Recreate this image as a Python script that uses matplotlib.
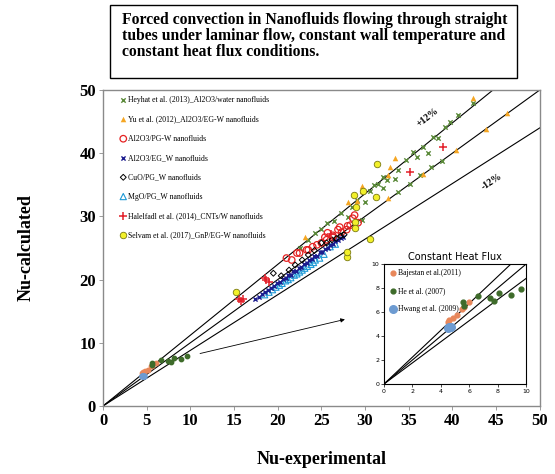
"""Nu-calculated vs Nu-experimental parity plot for nanofluid forced convection."""

import numpy as np
import matplotlib
matplotlib.use("Agg")
import matplotlib.pyplot as plt

SERIF = ["Liberation Serif", "DejaVu Serif"]

# ---- data ------------------------------------------------------------------
heyhat_x = [22.5, 23.5, 24.3, 25.0, 25.6, 26.4, 27.2, 28.0, 28.5, 29.1, 29.6, 30.0,
            30.6, 31.0, 31.5, 32.0, 32.0, 32.5, 33.4, 33.8, 33.8, 34.7, 35.1, 35.5,
            35.9, 36.3, 36.6, 37.2, 37.6, 37.8, 38.4, 38.8, 39.1, 39.7, 40.6, 42.3]
heyhat_y = [25.0, 26.3, 27.4, 28.0, 29.0, 29.3, 30.5, 29.9, 31.5, 32.6, 29.4, 32.3,
            34.0, 35.0, 35.1, 36.2, 34.5, 35.8, 35.9, 37.3, 33.9, 38.9, 35.1, 40.2,
            39.4, 36.5, 41.0, 40.0, 37.8, 42.6, 42.4, 38.8, 44.1, 44.9, 46.0, 48.0]

yu_x = [23.1, 28.0, 29.1, 29.7, 29.7, 32.6, 32.6, 32.8, 33.4, 36.6, 40.4, 43.8, 46.3, 42.3]
yu_y = [26.7, 32.3, 32.4, 34.0, 34.8, 36.5, 32.9, 37.8, 39.2, 36.7, 40.5, 43.8, 46.4, 48.7]

al_pg_x = [21.0, 21.6, 22.2, 22.5, 23.3, 23.5, 24.0, 24.5, 25.0, 25.4, 25.6, 25.7,
           26.3, 26.3, 26.9, 27.1, 27.3, 27.9, 28.0, 28.3, 28.6, 28.8, 29.2]
al_pg_y = [23.4, 23.1, 24.2, 24.2, 24.7, 24.7, 25.2, 25.5, 25.8, 26.7, 26.3, 27.4,
           26.7, 27.0, 27.9, 28.3, 27.5, 27.9, 28.5, 28.6, 29.7, 30.2, 29.0]

al_eg_x = [17.4, 17.8, 18.2, 18.5, 18.9, 19.2, 19.6, 19.9, 20.3, 20.6, 20.9, 21.2,
           21.5, 21.8, 22.1, 22.4, 22.7, 23.0, 23.3, 23.6, 23.9, 24.2, 24.5, 24.8,
           25.1, 25.4, 25.7, 26.0, 26.3, 26.6, 26.9, 27.2, 27.5]
al_eg_y = [17.0, 17.3, 17.7, 18.1, 18.3, 18.7, 19.0, 19.4, 19.6, 20.1, 20.2, 20.7,
           20.8, 21.3, 21.4, 21.9, 22.0, 22.5, 22.6, 23.1, 23.2, 23.7, 23.8, 24.3,
           24.4, 24.9, 25.0, 25.5, 25.6, 26.1, 26.2, 26.6, 26.8]

cuo_x = [19.5, 20.4, 21.3, 22.0, 22.8, 23.5, 24.2, 25.0, 25.6, 26.2, 26.7, 27.2, 27.6]
cuo_y = [21.0, 20.6, 21.5, 22.3, 23.1, 23.9, 24.6, 25.8, 25.8, 26.3, 26.5, 26.9, 27.1]

mgo_x = [18.5, 19.0, 19.4, 19.8, 20.2, 20.5, 20.9, 21.2, 21.5, 21.9, 22.2, 22.5,
         22.8, 23.1, 23.4, 23.8, 24.1, 24.3, 24.8, 25.3, 26.0, 26.6]
mgo_y = [17.6, 18.0, 18.4, 18.8, 19.1, 19.4, 19.8, 20.0, 20.3, 20.7, 20.9, 21.2,
         21.5, 21.8, 22.1, 22.4, 22.7, 23.1, 23.4, 24.0, 25.2, 25.6]

halelfadl_x = [15.6, 15.8, 16.0, 18.6, 18.7, 19.0, 26.1, 35.1, 38.9]
halelfadl_y = [16.9, 16.6, 17.0, 20.2, 19.9, 19.6, 27.2, 37.0, 41.0]

selvam_x = [15.2, 27.9, 27.9, 28.8, 28.9, 29.0, 28.7, 29.8, 30.6, 31.2, 31.4]
selvam_y = [18.0, 23.6, 24.4, 29.1, 28.2, 31.5, 33.4, 34.0, 26.4, 33.1, 38.3]

# constant heat flux studies (inset, also shown near the origin of main plot)
bajestan_x = [4.47, 4.60, 4.84, 5.12, 5.52, 5.63, 6.01]
bajestan_y = [5.14, 5.33, 5.47, 5.75, 6.25, 6.40, 6.86]
he_x = [5.59, 5.63, 6.64, 7.46, 7.75, 8.07, 8.92, 9.65]
he_y = [6.81, 6.53, 7.33, 7.19, 6.94, 7.61, 7.42, 7.92]
hwang_x = [4.47, 4.58, 4.70]
hwang_y = [4.70, 4.78, 4.72]

band_factors = [1.12, 1.0, 0.88]
title_text = ("Forced convection in Nanofluids flowing through straight\n"
              "tubes under laminar flow, constant wall temperature and\n"
              "constant heat flux conditions.")

# ---- figure ----------------------------------------------------------------
fig = plt.figure(figsize=(5.55, 4.74), dpi=100)
ax = fig.add_axes([0.1856, 0.1435, 0.787, 0.6667])

xx = np.array([0, 50])
for f in band_factors:
    ax.plot(xx, f * xx, color="black", lw=0.8, zorder=1)

ax.scatter(heyhat_x, heyhat_y, marker="x", s=10, color="#5b8a3a", lw=1.0,
           label="Heyhat et al. (2013)_Al2O3/water nanofluids", zorder=3)
ax.scatter(yu_x, yu_y, marker="^", s=16, color="#f5a623", lw=0,
           label="Yu et al. (2012)_Al2O3/EG-W nanofluids", zorder=3)
ax.scatter(al_pg_x, al_pg_y, marker="o", s=22, facecolor="none",
           edgecolor="#e52222", lw=0.9, label="Al2O3/PG-W nanofluids", zorder=3)
ax.scatter(al_eg_x, al_eg_y, marker="x", s=9, color="#1c1c8e", lw=1.0,
           label="Al2O3/EG_W nanofluids", zorder=3)
ax.scatter(cuo_x, cuo_y, marker="D", s=9, facecolor="none",
           edgecolor="black", lw=0.7, label="CuO/PG_W nanofluids", zorder=3)
ax.scatter(mgo_x, mgo_y, marker="^", s=20, facecolor="none",
           edgecolor="#1e9ad6", lw=0.8, label="MgO/PG_W nanofluids", zorder=2)
ax.scatter(halelfadl_x, halelfadl_y, marker="+", s=40, color="#e3202a", lw=1.1,
           label="Halelfadl et al. (2014)_CNTs/W nanofluids", zorder=4)
ax.scatter(selvam_x, selvam_y, marker="o", s=22, facecolor="#f2f02a",
           edgecolor="#7a7a10", lw=0.6,
           label="Selvam et al. (2017)_GnP/EG-W nanofluids", zorder=4)

ax.scatter(bajestan_x, bajestan_y, s=10, color="#e8875a", zorder=3)
ax.scatter(he_x, he_y, s=10, color="#3e6b2a", zorder=3)
ax.scatter(hwang_x, hwang_y, s=14, color="#6d9bd1", zorder=3)

ax.set_xlim(0, 50)
ax.set_ylim(0, 50)
ax.set_xticks(np.arange(0, 51, 5))
ax.set_yticks(np.arange(0, 51, 10))
for s in ax.spines.values():
    s.set_color("#8a8a8a")
    s.set_linewidth(1.0)
ax.tick_params(length=3, color="#8a8a8a", width=0.6, pad=2)
for lbl in ax.get_xticklabels() + ax.get_yticklabels():
    lbl.set_fontfamily(SERIF)
    lbl.set_fontweight("bold")
    lbl.set_fontsize(12)

ax.set_xlabel("Nu-experimental", fontfamily=SERIF, fontweight="bold",
              fontsize=13, labelpad=16)
ax.set_ylabel("Nu-calculated", fontfamily=SERIF, fontweight="bold",
              fontsize=13, labelpad=32)

ax.legend(loc="upper left", bbox_to_anchor=(0.025, 0.995), frameon=False,
          prop={"family": SERIF, "size": 5.6}, handletextpad=0.0,
          handlelength=1.2, labelspacing=1.45, borderaxespad=0.2,
          scatterpoints=1)

ax.text(37.2, 45.7, "+12%", rotation=38, fontfamily=SERIF, fontweight="bold",
        fontsize=7, ha="center", va="center")
ax.text(44.5, 35.4, "-12%", rotation=33, fontfamily=SERIF, fontweight="bold",
        fontsize=7, ha="center", va="center")

ax.annotate("", xy=(28.0, 13.8), xytext=(10.8, 8.2),
            arrowprops=dict(arrowstyle="-|>", color="black", lw=0.6,
                            mutation_scale=6))

# title box
fig.text(122 / 555, 1 - 36 / 474, title_text, fontfamily=SERIF,
         fontweight="bold", fontsize=11.3, ha="left", va="center",
         linespacing=1.0)
fig.patches.append(plt.Rectangle((110 / 555, 1 - 78 / 474), 407 / 555, 73 / 474,
                                 transform=fig.transFigure, fill=False,
                                 edgecolor="black", lw=1.0))

# inset: constant heat flux
ins = fig.add_axes([0.692, 0.190, 0.256, 0.253])
for f in band_factors:
    ins.plot([0, 10], [0, 10 * f], color="black", lw=0.8, zorder=1)
ins.scatter(bajestan_x, bajestan_y, s=12, color="#e8875a",
            label="Bajestan et al.(2011)", zorder=3)
ins.scatter(he_x, he_y, s=12, color="#3e6b2a", label="He et al. (2007)", zorder=3)
ins.scatter(hwang_x, hwang_y, s=30, color="#6d9bd1",
            label="Hwang et al. (2009)", zorder=3)
ins.set_xlim(0, 10)
ins.set_ylim(0, 10)
ins.set_xticks(np.arange(0, 11, 2))
ins.set_yticks(np.arange(0, 11, 2))
ins.tick_params(labelsize=4.5, length=2, width=0.5, pad=1.5)
ins.set_title("Constant Heat Flux", fontsize=7, pad=3)
ins.legend(loc="upper left", frameon=False, prop={"family": SERIF, "size": 5.5},
           handletextpad=0.1, handlelength=1.0, labelspacing=1.3,
           borderaxespad=0.3, scatterpoints=1)

fig.savefig("out.png", dpi=100)
